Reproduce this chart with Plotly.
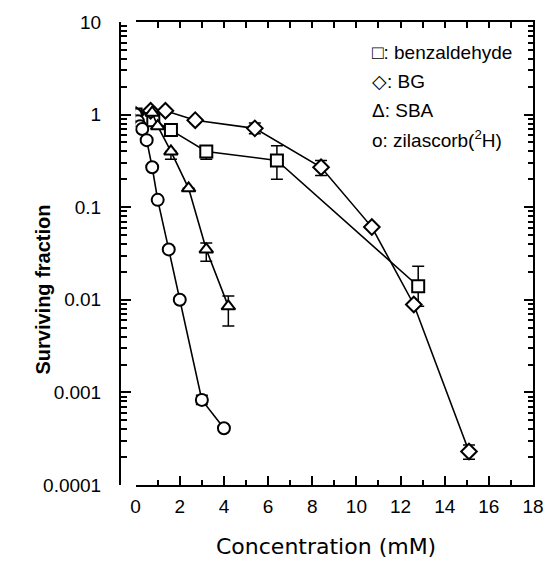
import plotly.graph_objects as go

# ---- data ----
benz_x = [0, 0.2, 0.4, 0.8, 1.6, 3.2, 6.4, 12.8]
benz_y = [1.0, 0.95, 0.9, 0.87, 0.68, 0.40, 0.32, 0.014]
benz_up = [0, 0, 0, 0, 0, 0.05, 0.14, 0.009]
benz_dn = [0, 0, 0, 0, 0, 0.07, 0.12, 0.0055]

bg_x = [0, 0.68, 1.35, 2.7, 5.4, 8.4, 10.7, 12.6, 15.1]
bg_y = [1.0, 1.1, 1.1, 0.87, 0.71, 0.27, 0.061, 0.0089, 0.00023]
bg_up = [0, 0, 0, 0, 0.10, 0.05, 0, 0, 0.00004]
bg_dn = [0, 0, 0, 0, 0.09, 0.05, 0, 0, 0.00004]

sba_x = [0, 0.75, 1.0, 1.6, 2.4, 3.2, 4.2]
sba_y = [1.0, 1.05, 0.75, 0.40, 0.16, 0.035, 0.0085]
sba_up = [0, 0, 0, 0, 0, 0.006, 0.0025]
sba_dn = [0, 0, 0, 0.07, 0, 0.009, 0.0033]

zil_x = [0, 0.1, 0.2, 0.3, 0.5, 0.75, 1.0, 1.5, 2.0, 3.0, 4.0]
zil_y = [1.0, 0.85, 0.75, 0.7, 0.53, 0.27, 0.12, 0.035, 0.01, 0.00083, 0.00041]
zil_up = [0, 0, 0, 0, 0, 0, 0, 0, 0, 0.0001, 0]
zil_dn = [0, 0, 0, 0, 0, 0, 0, 0, 0, 0.00009, 0]

x_ticks = list(range(0, 19, 2))
y_tickvals = [1e-4, 1e-3, 1e-2, 1e-1, 1, 10]
y_ticktext = ["0.0001", "0.001", "0.01", "0.1", "1", "10"]

legend_lines = ["\u25a1: benzaldehyde", "\u25c7: BG", "\u0394: SBA", "o: zilascorb(<sup>2</sup>H)"]

FONT = "Liberation Sans, Arial, Helvetica, sans-serif"
WIDE = "DejaVu Sans, Liberation Sans, sans-serif"

# ---- figure ----
W, H = 556, 561
L, R, T, B = 120, 13, 18, 76
pw = W - L - R
ph = H - T - B
x0 = 16 / pw  # x domain start (y axis line sits a bit left of x=0)

minor_y = [m * 10 ** e for e in range(-4, 1) for m in range(2, 10)]

fig = go.Figure()

series = [
    (benz_x, benz_y, benz_up, benz_dn, "square", "benzaldehyde"),
    (bg_x, bg_y, bg_up, bg_dn, "diamond", "BG"),
    (sba_x, sba_y, sba_up, sba_dn, "triangle-up", "SBA"),
    (zil_x, zil_y, zil_up, zil_dn, "circle", "zilascorb"),
]
for xs, ys, up, dn, sym, name in series:
    fig.add_trace(go.Scatter(
        x=xs, y=ys, name=name, mode="lines+markers",
        line=dict(color="black", width=1.6),
        marker=dict(symbol=sym, size=12, color="white",
                    line=dict(color="black", width=2)),
        error_y=dict(type="data", symmetric=False, array=up, arrayminus=dn,
                     color="black", thickness=1.5, width=6),
        showlegend=False,
    ))

# empty traces so the frame axes (top / right) are drawn
fig.add_trace(go.Scatter(x=[], y=[], xaxis="x2", yaxis="y2", showlegend=False))

fig.update_layout(
    width=W, height=H,
    margin=dict(l=L, r=R, t=T, b=B),
    paper_bgcolor="white", plot_bgcolor="white",
    font=dict(family=FONT, color="black", size=19),
    xaxis=dict(
        domain=[x0, 1], range=[0, 18], anchor="y",
        tickvals=x_ticks, ticktext=[str(v) for v in x_ticks],
        ticks="inside", ticklen=9, tickwidth=1.5, tickcolor="black",
        minor=dict(dtick=1, ticks="inside", ticklen=5, tickwidth=1.5, tickcolor="black", showgrid=False),
        showline=True, linecolor="black", linewidth=2,
        showgrid=False, zeroline=False,
        tickfont=dict(size=19), ticklabelstandoff=3,
    ),
    xaxis2=dict(
        overlaying="x", side="top", anchor="y", range=[0, 18],
        dtick=1, ticks="inside", ticklen=6, tickwidth=1.5, tickcolor="black",
        showticklabels=False, showline=True, linecolor="black", linewidth=2,
        showgrid=False, zeroline=False,
    ),
    yaxis=dict(
        type="log", range=[-4, 1], anchor="free", position=0,
        tickvals=y_tickvals, ticktext=y_ticktext,
        ticks="inside", ticklen=10, tickwidth=1.5, tickcolor="black",
        minor=dict(tickvals=minor_y, ticks="inside", ticklen=6, tickwidth=1.5,
                   tickcolor="black", showgrid=False),
        showline=True, linecolor="black", linewidth=2,
        showgrid=False, zeroline=False,
        tickfont=dict(size=19), ticklabelstandoff=14,
    ),
    yaxis2=dict(
        type="log", range=[-4, 1], overlaying="y", side="right", anchor="x",
        tickvals=y_tickvals, ticks="inside", ticklen=9, tickwidth=1.5, tickcolor="black",
        minor=dict(tickvals=minor_y, ticks="inside", ticklen=5, tickwidth=1.5,
                   tickcolor="black", showgrid=False),
        showticklabels=False, showline=True, linecolor="black", linewidth=2,
        showgrid=False, zeroline=False,
    ),
)

def px_to_paper_x(px):
    return (px - L) / pw

def px_to_paper_y(py):
    return (H - B - py) / ph

ann = []
ann.append(dict(text="Concentration (mM)", x=px_to_paper_x(331), y=px_to_paper_y(547),
                xref="paper", yref="paper", showarrow=False, xanchor="center", yanchor="middle",
                font=dict(size=22, family=WIDE)))
ann.append(dict(text="<b>Surviving fraction</b>", x=px_to_paper_x(41), y=px_to_paper_y(288),
                xref="paper", yref="paper", showarrow=False, xanchor="center", yanchor="middle",
                textangle=-90, font=dict(size=20, family=FONT)))
for i, (txt, py) in enumerate(zip(legend_lines, [49, 78, 107, 136])):
    ann.append(dict(text=txt, x=px_to_paper_x(376), y=px_to_paper_y(py),
                    xref="paper", yref="paper", showarrow=False, xanchor="left", yanchor="middle",
                    font=dict(size=19, family=FONT)))
fig.update_layout(annotations=ann)

fig.write_html(
    "out.html",
    config={"displayModeBar": False},
    post_script="document.body.style.margin='0';document.body.style.padding='0';document.body.style.overflow='hidden';",
)
